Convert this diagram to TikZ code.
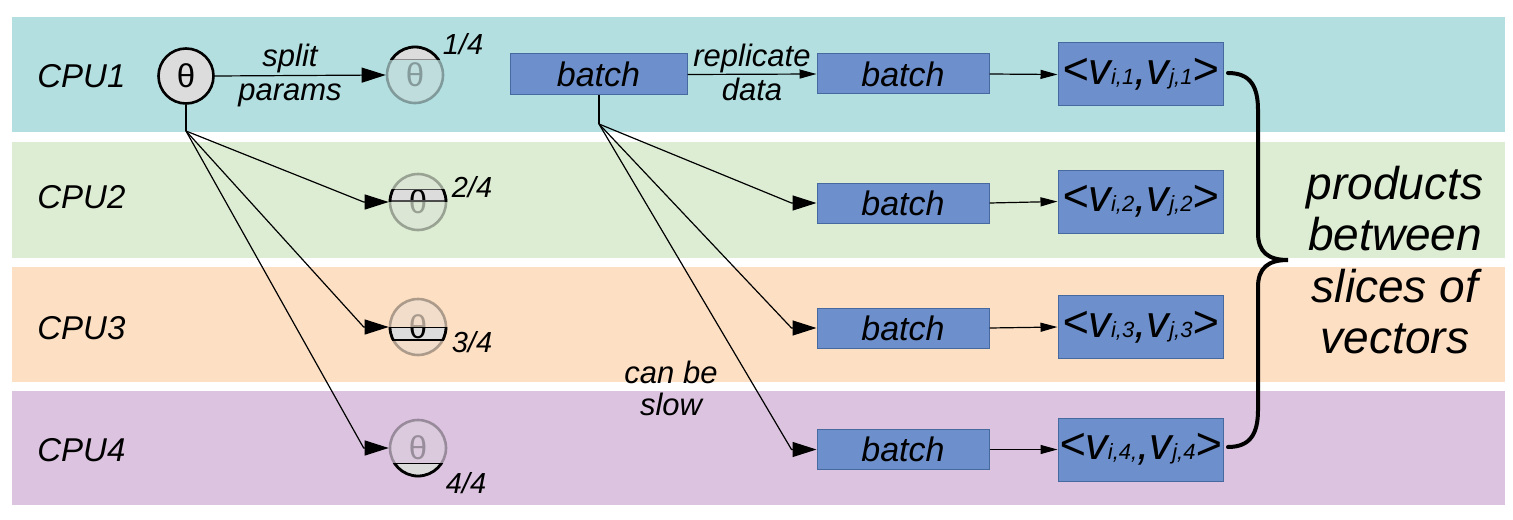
\documentclass[tikz,border=0pt]{standalone}
\usepackage{fontspec}
\setmainfont{Liberation Sans}
\usetikzlibrary{arrows.meta}
\definecolor{bandA}{HTML}{B4DFE0}
\definecolor{bandB}{HTML}{DDEDD3}
\definecolor{bandC}{HTML}{FDE0C4}
\definecolor{bandD}{HTML}{DCC4E0}
\definecolor{boxfill}{HTML}{6D8FCB}
\definecolor{boxline}{HTML}{46699F}
\definecolor{thfill}{HTML}{DCDCDC}
\newcommand{\myfs}[1]{\fontsize{#1}{#1}\selectfont}
\newcommand{\cpuslice}[5]{% cx, cy, top y, bottom y, chord colour
  \begin{scope}
    \clip (#1,#2) circle[radius=14pt];
    \clip (#1-30,#3) rectangle (#1+30,#4);
    \fill[thfill] (#1-30,#3) rectangle (#1+30,#4);
    \node[inner sep=0,font=\myfs{16.5}] at (#1,#2) {θ};
    \draw[#5,line width=0.8pt] (#1-30,#3) -- (#1+30,#3) (#1-30,#4) -- (#1+30,#4);
  \end{scope}
  \begin{scope}
    \clip (#1-30,#3) rectangle (#1+30,#4);
    \draw[black,line width=1.4pt] (#1,#2) circle[radius=14pt];
  \end{scope}}
\begin{document}
\begin{tikzpicture}[x=0.5pt,y=-0.5pt,
  cpu/.style={font=\myfs{16.5}\itshape,anchor=west,inner sep=0},
  lbl/.style={font=\myfs{15.5}\itshape,inner sep=0},
  frac/.style={font=\myfs{14.5}\itshape,inner sep=0},
  batchbox/.style={draw=boxline,fill=boxfill,line width=0.5pt,minimum width=86pt,minimum height=20pt,inner sep=0,font=\myfs{17}\itshape},
  vecbox/.style={draw=boxline,fill=boxfill,line width=0.5pt,minimum width=82.5pt,minimum height=31.5pt,inner sep=0,font=\myfs{22.5}\itshape},
  mainth/.style={circle,draw=black,line width=1.3pt,fill=thfill,minimum size=27.5pt,inner sep=0,font=\myfs{16.5}},
  fadeth/.style={circle,draw=black,draw opacity=0.3,fill=black!15,fill opacity=0.3,text opacity=0.3,line width=1.3pt,minimum size=28pt,inner sep=0,font=\myfs{16.5}},
  conn/.style={line width=0.6pt,black},
  bigarr/.style={conn,-{Triangle[length=12pt,width=7.5pt]}},
  smallarr/.style={conn,-{Triangle[length=8.5pt,width=4.5pt]}},
  brace/.style={line width=2pt,black,line cap=round}]
\useasboundingbox (0,0) rectangle (1513,519);
\fill[white] (0,0) rectangle (1513,519);
% bands
\fill[bandA] (12,17) rectangle (1505,132);
\fill[bandB] (12,142) rectangle (1505,258);
\fill[bandC] (12,267) rectangle (1505,382);
\fill[bandD] (12,391) rectangle (1505,505);
% CPU labels
\node[cpu] (cpu1) at (37,76) {CPU1};
\node[cpu] (cpu2) at (37,197) {CPU2};
\node[cpu] (cpu3) at (37,328) {CPU3};
\node[cpu] (cpu4) at (37,450) {CPU4};
% theta nodes
\node[mainth] (th) at (186,76) {θ};
\node[fadeth] (c1) at (415,75) {θ};
\node[fadeth] (c2) at (418,202) {θ};
\node[fadeth] (c3) at (418,327) {θ};
\node[fadeth] (c4) at (418,448) {θ};
\cpuslice{415}{75}{40}{60}{black!45}
\cpuslice{418}{202}{189}{201}{black!70}
\cpuslice{418}{327}{327}{340}{black}
\cpuslice{418}{448}{463}{485}{black}
\node[frac] (f1) at (463,44) {1/4};
\node[frac] (f2) at (472,187) {2/4};
\node[frac] (f3) at (472,342) {3/4};
\node[frac] (f4) at (466,483) {4/4};
% split arrows
\draw[bigarr] (th.east) -- (c1.west);
\node[lbl,anchor=base] (split) at (290,67) {split};
\node[lbl,anchor=base] (params) at (290,100) {params};
\coordinate (tb) at (186,131);
\draw[conn] (th.south) -- (tb);
\draw[bigarr] (tb) -- ([xshift=-12.5pt]c2.west) -- (c2.west);
\draw[bigarr] (tb) -- ([xshift=-12.5pt]c3.west) -- (c3.west);
\draw[bigarr] (tb) -- ([xshift=-12.5pt]c4.west) -- (c4.west);
% batch boxes
\node[batchbox,minimum width=88.5pt,minimum height=20.5pt] (b0) at (598.5,74.5) {batch};
\node[batchbox] (b1) at (903,74) {batch};
\node[batchbox] (b2) at (903,203) {batch};
\node[batchbox] (b3) at (903,328) {batch};
\node[batchbox] (b4) at (903,449.5) {batch};
\draw[smallarr] (b0.east) -- (b1.west);
\node[lbl,anchor=base] (repl) at (752,67) {replicate};
\node[lbl,anchor=base] (data) at (752,101) {data};
\coordinate (bb) at (599,124);
\draw[conn] (b0.south -| bb) -- (bb);
\draw[bigarr] (bb) -- ([xshift=-12.5pt]b2.west) -- (b2.west);
\draw[bigarr] (bb) -- ([xshift=-12.5pt]b3.west) -- (b3.west);
\draw[bigarr] (bb) -- ([xshift=-12.5pt]b4.west) -- (b4.west);
\node[lbl,anchor=base] (can) at (671,383) {can be};
\node[lbl,anchor=base] (slow) at (671,415) {slow};
% vector boxes
\node[vecbox] (v1) at (1140.5,74.5) {<v{\myfs{11}i,1},v{\myfs{11}j,1}>};
\node[vecbox] (v2) at (1140.5,201.5) {<v{\myfs{11}i,2},v{\myfs{11}j,2}>};
\node[vecbox] (v3) at (1140.5,327) {<v{\myfs{11}i,3},v{\myfs{11}j,3}>};
\node[vecbox] (v4) at (1140.5,449.5) {<v{\myfs{11}i,4,},v{\myfs{11}j,4}>};
\draw[smallarr] (b1.east) -- (v1.west);
\draw[smallarr] (b2.east) -- (v2.west);
\draw[smallarr] (b3.east) -- (v3.west);
\draw[smallarr] (b4.east) -- (v4.west);
% brace
\draw[brace] (1228,73) .. controls (1250,73) and (1258,86) .. (1258,110)
  -- (1258,233) .. controls (1258,252) and (1268,260) .. (1288,260)
  .. controls (1268,260) and (1258,268) .. (1258,287)
  -- (1258,410) .. controls (1258,434) and (1250,447) .. (1228,447);
\node[font=\fontsize{23}{25.75}\selectfont\itshape,align=center,inner sep=0] (prod) at (1395,260) {products\\between\\slices of\\vectors};
\end{tikzpicture}
\end{document}
